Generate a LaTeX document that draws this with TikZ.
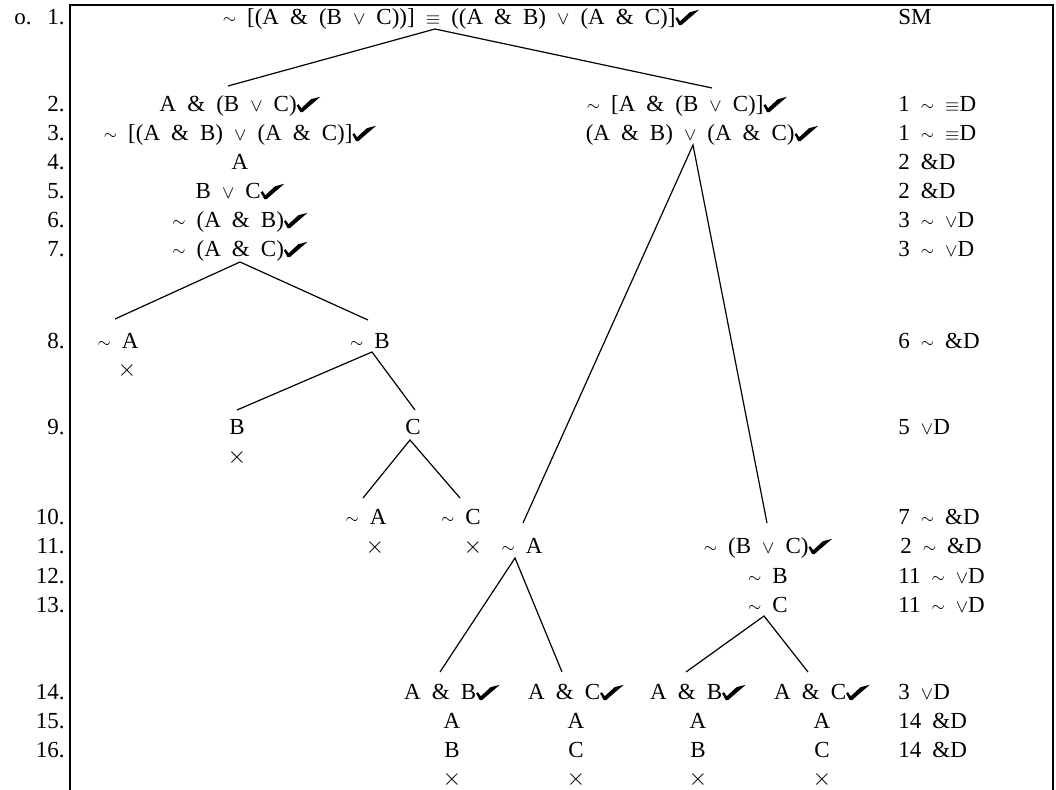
\documentclass[tikz,border=0pt]{standalone}
\usepackage{fontspec}
\setmainfont{Liberation Serif}
\newcommand{\chk}{\tikz[baseline=0pt,x=1pt,y=1pt,line width=0pt]\fill (0,3.3) -- (0.9,3.9) -- (2.3,1.9) -- (7.2,6.4) -- (11.8,7.6) -- (2.9,-0.1) -- (1.8,-0.1) -- cycle;}
\newcommand{\nt}{\raisebox{0.8pt}{\footnotesize$\sim$}\ }
\newcommand{\vo}{{\small$\vee$}}
\newcommand{\eqv}{{\small$\equiv$}}
\newcommand{\xx}{{\fontsize{13}{13}\selectfont$\times$}}
\newcommand{\fmfont}{\fontsize{11.5}{13}\selectfont\spaceskip=0.48em\relax}
\begin{document}
\begin{tikzpicture}[x=0.5pt,y=-0.5pt,
  fm/.style={anchor=base,inner sep=0pt,font=\fmfont},
  lab/.style={fm,anchor=base east},
  just/.style={fm,anchor=base west},
  br/.style={line width=0.6pt},
  frame/.style={line width=1.3pt}]
\useasboundingbox (0,0) rectangle (1056,790);
\draw[frame] (70,790) -- (70,5) -- (1053,5) -- (1053,790);
% row labels
\node[lab] (o) at (32,25) {o.};
\foreach \n/\y in {1/25,2/112,3/141,4/170,5/199,6/228,7/257,8/349,9/435,10/525,11/554,12/584,13/613,14/700,15/729,16/758}
  \node[lab] (l\n) at (65,\y) {\n.};
% justifications
\node[just] (j1) at (898,25) {SM};
\node[just] (j2) at (898,112) {1 \nt\eqv D};
\node[just] (j3) at (898,141) {1 \nt\eqv D};
\node[just] (j4) at (898,170) {2 \&D};
\node[just] (j5) at (898,199) {2 \&D};
\node[just] (j6) at (898,228) {3 \nt\vo D};
\node[just] (j7) at (898,257) {3 \nt\vo D};
\node[just] (j8) at (898,349) {6 \nt\&D};
\node[just] (j9) at (898,435) {5 \vo D};
\node[just] (j10) at (898,525) {7 \nt\&D};
\node[just] (j11) at (900,554) {2 \nt\&D};
\node[just] (j12) at (898,584) {11 \nt\vo D};
\node[just] (j13) at (898,613) {11 \nt\vo D};
\node[just] (j14) at (898,700) {3 \vo D};
\node[just] (j15) at (898,729) {14 \&D};
\node[just] (j16) at (898,758) {14 \&D};
% formulas
\node[fm] (f1) at (461,25) {\nt[(A \& (B \vo\ C))] \eqv\ ((A \& B) \vo\ (A \& C)]\chk};
\node[fm] (a2) at (240,112) {A \& (B \vo\ C)\chk};
\node[fm] (a3) at (240,141) {\nt[(A \& B) \vo\ (A \& C)]\chk};
\node[fm] (a4) at (240,170) {A};
\node[fm] (a5) at (240,199) {B \vo\ C\chk};
\node[fm] (a6) at (240,228) {\nt(A \& B)\chk};
\node[fm] (a7) at (240,257) {\nt(A \& C)\chk};
\node[fm] (b2) at (687,112) {\nt[A \& (B \vo\ C)]\chk};
\node[fm] (b3) at (702,141) {(A \& B) \vo\ (A \& C)\chk};
\node[fm] (c8) at (118,349) {\nt A};
\node[fm] (x8) at (127,377) {\xx};
\node[fm] (d8) at (370,349) {\nt B};
\node[fm] (d9) at (237,435) {B};
\node[fm] (x9) at (237,464) {\xx};
\node[fm] (e9) at (413,435) {C};
\node[fm] (e10) at (366,525) {\nt A};
\node[fm] (x10) at (375,554) {\xx};
\node[fm] (g10) at (461,525) {\nt C};
\node[fm] (y10) at (473,554) {\xx};
\node[fm] (h11) at (522,554) {\nt A};
\node[fm] (k11) at (768,554) {\nt(B \vo\ C)\chk};
\node[fm] (k12) at (768,584) {\nt B};
\node[fm] (k13) at (768,613) {\nt C};
\foreach \nm/\x/\f/\s in {p/452/B/B, q/576/C/C, r/698/B/B, s/822/C/C}{
  \node[fm] (\nm14) at (\x,700) {A \& \f\chk};
  \node[fm] (\nm15) at (\x,729) {A};
  \node[fm] (\nm16) at (\x,758) {\s};
  \node[fm] (\nm17) at (\x,786) {\xx};
}
% branch points
\coordinate (t1) at (435,29);
\coordinate (t1l) at (228,86);
\coordinate (t1r) at (712,88);
\coordinate (t3) at (693,145);
\coordinate (t3l) at (523,523);
\coordinate (t3r) at (767,523);
\coordinate (t7) at (240,262);
\coordinate (t7l) at (115,319);
\coordinate (t7r) at (368,320);
\coordinate (t8) at (372,352);
\coordinate (t8l) at (237,410);
\coordinate (t8r) at (415,410);
\coordinate (t9) at (410,440);
\coordinate (t9l) at (363,498);
\coordinate (t9r) at (460,498);
\coordinate (t11) at (515,558);
\coordinate (t11l) at (440,672);
\coordinate (t11r) at (562,672);
\coordinate (t13) at (764,616);
\coordinate (t13l) at (686,672);
\coordinate (t13r) at (808,672);
\draw[br] (t1l) -- (t1) -- (t1r);
\draw[br] (t3l) -- (t3) -- (t3r);
\draw[br] (t7l) -- (t7) -- (t7r);
\draw[br] (t8l) -- (t8) -- (t8r);
\draw[br] (t9l) -- (t9) -- (t9r);
\draw[br] (t11l) -- (t11) -- (t11r);
\draw[br] (t13l) -- (t13) -- (t13r);
\end{tikzpicture}
\end{document}
